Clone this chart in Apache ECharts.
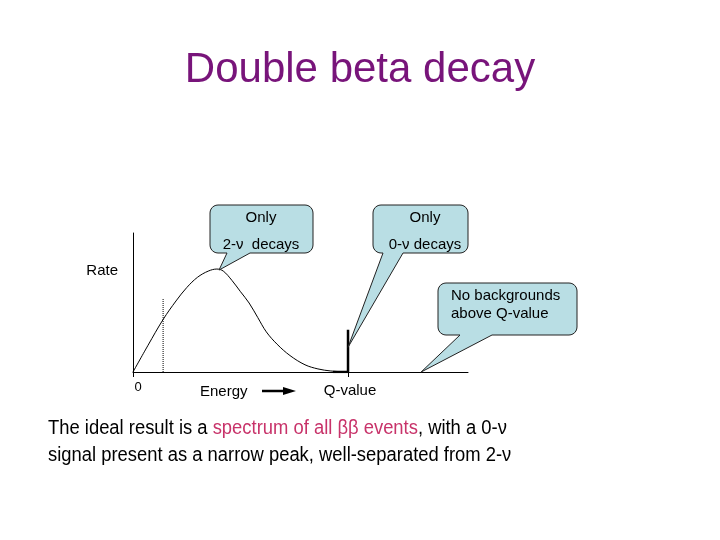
<!DOCTYPE html>
<html>
<head>
<meta charset="utf-8">
<script src="https://cdn.jsdelivr.net/npm/echarts@6/dist/echarts.min.js"></script>
<style>
  html, body { margin: 0; padding: 0; background: #fff; }
  #main { width: 720px; height: 540px; }
</style>
</head>
<body>
<div id="main"></div>
<script>
// 2-nu spectrum, energy in units of Q
var energy = [0, 0.07, 0.14, 0.2, 0.25, 0.3, 0.35, 0.39, 0.42, 0.46, 0.5, 0.54, 0.58, 0.62, 0.67, 0.73, 0.8, 0.86, 0.92, 1.0];
var rate   = [0, 0.26, 0.51, 0.69, 0.82, 0.92, 0.98, 1.0, 0.98, 0.89, 0.78, 0.67, 0.53, 0.39, 0.27, 0.16, 0.07, 0.03, 0.01, 0];

// 0-nu peak at Q
var signalX = [0.93, 1, 1];
var signalY = [0, 0, 0.41];

// dotted threshold line
var cutX = [0.14, 0.14];
var cutY = [0, 0.71];

var tickValues = [0, 1];
var tickLabels = ['0', 'Q-value'];

// where the callouts point
var peakTip = [0.4, 0.99];
var signalTip = [1, 0.24];
var flatTip = [1.34, 0];

var FONT = "'Liberation Sans', Arial, sans-serif";
var BUBBLE = '#b9dee4';

function pairs(xs, ys) {
	return xs.map(function (x, i) { return [x, ys[i]]; });
}

var chart = echarts.init(document.getElementById('main'));

var option = {
	backgroundColor: '#fff',
	animation: false,
	title: {
		text: 'Double beta decay',
		left: 'center',
		top: 44,
		textStyle: { color: '#78147a', fontSize: 42, fontWeight: 'normal', fontFamily: FONT }
	},
	grid: { left: 133, right: 252, top: 233, bottom: 168 },
	xAxis: {
		type: 'value',
		min: 0,
		max: 1.558,
		axisLine: { show: true, lineStyle: { color: '#000', width: 1 } },
		axisTick: { show: true, customValues: tickValues, length: 5, lineStyle: { color: '#000' } },
		axisLabel: {
			customValues: tickValues,
			margin: 6,
			formatter: function (v) {
				var i = tickValues.indexOf(v);
				return i === 0 ? '{z|' + tickLabels[0] + '}' : '{q|' + tickLabels[i] + '}';
			},
			rich: {
				z: { fontSize: 13, color: '#000', fontFamily: FONT, padding: [3, 0, 0, 10] },
				q: { fontSize: 15, color: '#000', fontFamily: FONT, padding: [5, 0, 0, 4] }
			}
		},
		splitLine: { show: false }
	},
	yAxis: {
		type: 'value',
		min: 0,
		max: 1.35,
		axisLine: { show: true, lineStyle: { color: '#000', width: 1 } },
		axisTick: { show: false },
		axisLabel: { show: false },
		splitLine: { show: false }
	},
	series: [
		{
			type: 'line',
			data: pairs(energy, rate),
			smooth: 0.35,
			symbol: 'none',
			lineStyle: { color: '#000', width: 1 }
		},
		{
			type: 'line',
			data: pairs(cutX, cutY),
			symbol: 'none',
			lineStyle: { color: '#000', width: 1, type: 'dotted' }
		},
		{
			type: 'line',
			data: pairs(signalX, signalY),
			symbol: 'none',
			lineStyle: { color: '#000', width: 2.5 }
		}
	]
};
chart.setOption(option);

// rounded box with a pointer leaving its bottom edge
function callout(x0, y0, x1, y1, r, b0, b1, tip) {
	var pts = [];
	function arc(cx, cy, a0, a1) {
		for (var k = 0; k <= 6; k++) {
			var a = (a0 + (a1 - a0) * k / 6) * Math.PI / 180;
			pts.push([cx + r * Math.cos(a), cy + r * Math.sin(a)]);
		}
	}
	arc(x1 - r, y0 + r, -90, 0);
	arc(x1 - r, y1 - r, 0, 90);
	pts.push([b1, y1], tip, [b0, y1]);
	arc(x0 + r, y1 - r, 90, 180);
	arc(x0 + r, y0 + r, 180, 270);
	return pts;
}

function label(text, x, y, size, align) {
	return {
		type: 'text', z: 12,
		style: {
			text: text, x: x, y: y, fill: '#000',
			font: size + 'px ' + FONT,
			align: align || 'center', textAlign: align || 'center',
			verticalAlign: 'middle', textVerticalAlign: 'middle'
		}
	};
}

var t1 = chart.convertToPixel({ gridIndex: 0 }, peakTip);
var t2 = chart.convertToPixel({ gridIndex: 0 }, signalTip);
var t3 = chart.convertToPixel({ gridIndex: 0 }, flatTip);

var bubbleStyle = { fill: BUBBLE, stroke: '#222', lineWidth: 1 };

chart.setOption({
	graphic: [
		{ type: 'polygon', z: 10, shape: { points: callout(210, 205, 313, 253, 8, 227, 250, t1) }, style: bubbleStyle },
		{ type: 'polygon', z: 10, shape: { points: callout(373, 205, 468, 253, 8, 383, 403, t2) }, style: bubbleStyle },
		{ type: 'polygon', z: 10, shape: { points: callout(438, 283, 577, 335, 8, 460, 492, t3) }, style: bubbleStyle },
		label('Only', 261, 218, 15),
		label('2-ν  decays', 261, 245, 15),
		label('Only', 425, 218, 15),
		label('0-ν decays', 425, 245, 15),
		label('No backgrounds', 451, 296, 15, 'left'),
		label('above Q-value', 451, 314, 15, 'left'),
		label('Rate', 118, 271, 15, 'right'),
		label('Energy', 200, 392, 15, 'left'),
		{ type: 'line', z: 12, shape: { x1: 262, y1: 391, x2: 286, y2: 391 }, style: { stroke: '#000', lineWidth: 2.5 } },
		{ type: 'polygon', z: 12, shape: { points: [[283, 387], [296, 391], [283, 395]] }, style: { fill: '#000' } },
		{
			type: 'text', z: 12, x: 48, y: 428, scaleX: 0.92,
			style: {
				text: '{a|The ideal result is a }{b|spectrum of all ββ events}{a|, with a 0-ν}',
				verticalAlign: 'middle', textVerticalAlign: 'middle',
				rich: {
					a: { fontSize: 20, fontFamily: FONT, fill: '#000' },
					b: { fontSize: 20, fontFamily: FONT, fill: '#c8336a' }
				}
			}
		},
		{
			type: 'text', z: 12, x: 48, y: 455, scaleX: 0.92,
			style: {
				text: 'signal present as a narrow peak, well-separated from 2-ν',
				font: '20px ' + FONT, fill: '#000',
				verticalAlign: 'middle', textVerticalAlign: 'middle'
			}
		}
	]
});
</script>
</body>
</html>
